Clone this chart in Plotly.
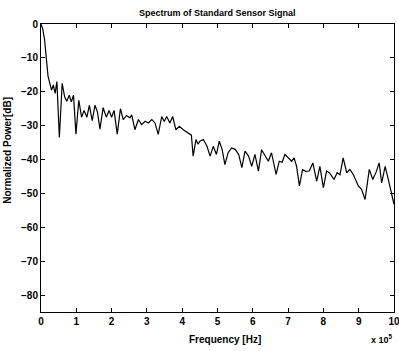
import plotly.graph_objects as go

# Frequency in units of 1e5 Hz
freq = [0.00, 0.05, 0.10, 0.15, 0.20, 0.25, 0.30, 0.35, 0.40, 0.45,
        0.52, 0.60, 0.67, 0.73, 0.80, 0.86, 0.92, 0.99, 1.07, 1.15,
        1.22, 1.30, 1.37, 1.45, 1.53, 1.60, 1.67, 1.76, 1.85, 1.93,
        2.00, 2.07, 2.16, 2.25, 2.33, 2.42, 2.52, 2.57, 2.66, 2.76,
        2.85, 2.95, 3.04, 3.14, 3.23, 3.32, 3.42, 3.49, 3.56, 3.65,
        3.73, 3.82, 3.92, 4.03, 4.17, 4.26, 4.31, 4.39, 4.45, 4.50,
        4.60, 4.70, 4.79, 4.88, 4.97, 5.05, 5.13, 5.21, 5.30, 5.40,
        5.50, 5.60, 5.69, 5.78, 5.88, 5.97, 6.06, 6.16, 6.25, 6.35,
        6.44, 6.53, 6.66, 6.75, 6.83, 6.91, 7.00, 7.10, 7.17, 7.24,
        7.32, 7.41, 7.50, 7.60, 7.70, 7.81, 7.90, 8.00, 8.09, 8.18,
        8.30, 8.39, 8.47, 8.56, 8.66, 8.75, 8.85, 8.99, 9.08, 9.18,
        9.30, 9.40, 9.50, 9.58, 9.65, 9.75, 9.84, 9.94, 10.0]

power_db = [0, -1.5, -4.5, -10, -15.5, -17.5, -19.5, -18, -20.5, -17,
            -33.5, -17.5, -21.5, -22.8, -21, -23, -21, -32.5, -22.5, -27.5,
            -25.5, -27.5, -24, -28.5, -24, -26, -31, -24.7, -27.5, -25.5,
            -27.5, -25.5, -32.5, -25, -28.2, -27, -27.7, -26.8, -31.2, -28.2,
            -29.7, -28.7, -29.2, -28.2, -29.2, -32.6, -27.3, -28.8, -27.3, -29.2,
            -27.3, -31.2, -30.2, -31.2, -32.2, -32.8, -39, -34.1, -35.5, -34.6,
            -34.1, -36, -39, -36.1, -38.5, -34.6, -37, -41.5, -38, -36.6,
            -37, -38.5, -42.4, -37.5, -39, -42, -38.5, -43.4, -37.1, -39,
            -40.5, -38, -44.4, -40.5, -40.8, -38.5, -39.5, -40.5, -39.5, -42,
            -47.8, -43, -43.5, -43.4, -41, -46.4, -42, -48.3, -43.4, -44,
            -45.9, -43.9, -44.5, -39.5, -43.9, -42.9, -44.5, -47.8, -48.8, -51.8,
            -42.9, -45.9, -43.5, -41, -46.9, -42, -45.9, -50.3, -53.2]

x_ticks = [0, 1, 2, 3, 4, 5, 6, 7, 8, 9, 10]
y_ticks = [0, -10, -20, -30, -40, -50, -60, -70, -80]

FONT = "Liberation Sans"

fig = go.Figure()
fig.add_trace(go.Scatter(x=freq, y=power_db, mode="lines",
                         line=dict(color="black", width=1.2),
                         showlegend=False, hoverinfo="skip"))

axis_common = dict(showline=True, linecolor="black", linewidth=1,
                   mirror="ticks", ticks="inside", ticklen=4,
                   tickcolor="black", showgrid=False, zeroline=False,
                   ticklabeloverflow="allow", automargin=False,
                   tickfont=dict(family=FONT, size=10, color="black", weight="bold"))

fig.update_xaxes(range=[0, 10], tickvals=x_ticks, **axis_common)
fig.update_yaxes(range=[-85, 0], tickvals=y_ticks, **axis_common)

fig.update_layout(
    width=399, height=351,
    margin=dict(l=41, r=5, t=24, b=39, autoexpand=False),
    paper_bgcolor="white", plot_bgcolor="white",
    annotations=[
        dict(text="Spectrum of Standard Sensor Signal", xref="paper", yref="paper",
             x=0.5, y=1, yshift=11, showarrow=False, xanchor="center", yanchor="middle",
             font=dict(family=FONT, size=9, color="black", weight="bold")),
        dict(text="Frequency [Hz]", xref="paper", yref="paper",
             x=0.52, y=0, yshift=-27, showarrow=False, xanchor="center", yanchor="middle",
             font=dict(family=FONT, size=10, color="black", weight="bold")),
        dict(text="Normalized Power[dB]", xref="paper", yref="paper",
             x=0, xshift=-33, y=0.56, showarrow=False, textangle=-90,
             xanchor="center", yanchor="middle",
             font=dict(family=FONT, size=10, color="black", weight="bold")),
        dict(text="x 10<sup>5</sup>", xref="paper", yref="paper",
             x=1, xshift=1, y=0, yshift=-27, showarrow=False,
             xanchor="right", yanchor="middle",
             font=dict(family=FONT, size=9, color="black", weight="bold")),
    ],
)

fig.write_html("out.html", config={"displayModeBar": False},
               post_script="document.body.style.margin='0';document.body.style.overflow='hidden';")
